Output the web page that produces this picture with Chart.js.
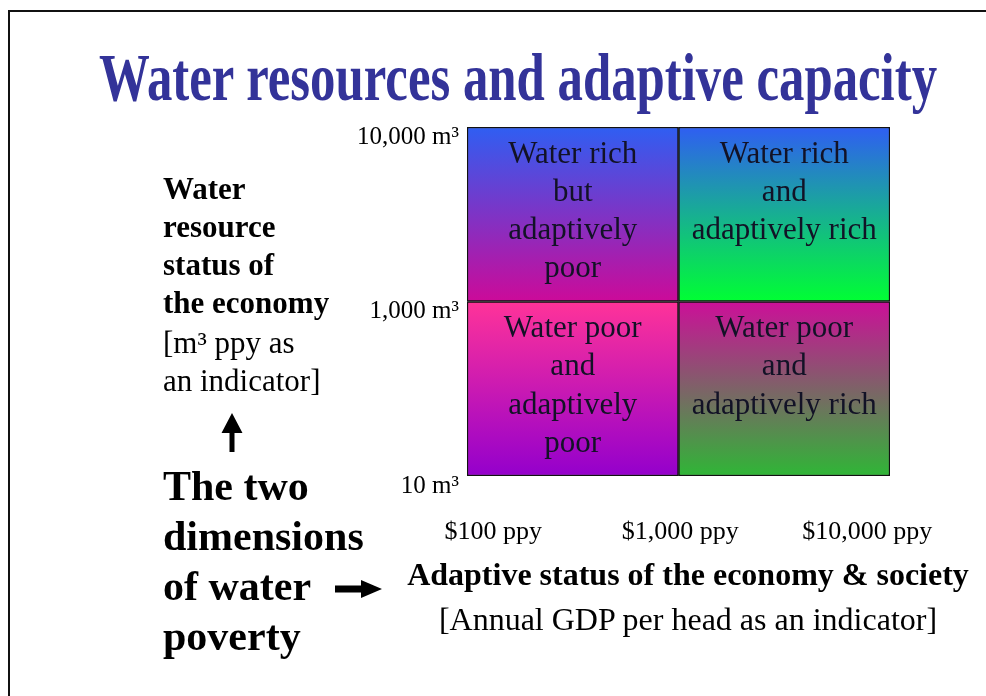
<!DOCTYPE html>
<html>
<head>
<meta charset="utf-8">
<script src="https://cdn.jsdelivr.net/npm/chart.js@4.4.1/dist/chart.umd.min.js"></script>
<style>
  html, body { margin: 0; padding: 0; background: #fff; }
  body { width: 986px; height: 696px; position: relative; overflow: hidden; font-family: "Liberation Serif", "Times New Roman", serif; color: #000; }
  #frame { position: absolute; left: 8px; top: 10px; width: 2000px; height: 2000px; border-left: 2px solid #111; border-top: 2px solid #111; }
  canvas#c { position: absolute; left: 0; top: 0; }
  .t { position: absolute; white-space: nowrap; }
  #title { left: -182px; width: 1400px; top: 43px; text-align: center; font-weight: bold; font-size: 68px; line-height: 68px; color: #333399; transform: scaleX(0.747); transform-origin: 50% 50%; }
  #ylab1 { left: 163px; top: 169.5px; font-weight: bold; font-size: 31px; line-height: 38px; }
  #ylab2 { left: 163px; top: 323.5px; font-size: 31px; line-height: 38px; }
  #two { left: 163px; top: 461px; font-weight: bold; font-size: 42px; line-height: 50px; }
  #xlab1 { left: 288px; width: 800px; text-align: center; top: 554px; font-weight: bold; font-size: 32px; line-height: 40px; }
  #xlab2 { left: 288px; width: 800px; text-align: center; top: 599px; font-size: 32px; line-height: 40px; }
  svg#arrows { position: absolute; left: 0; top: 0; }
</style>
</head>
<body>
<div id="frame"></div>
<canvas id="c" width="986" height="696"></canvas>
<div class="t" id="title">Water resources and adaptive capacity</div>
<div class="t" id="ylab1">Water<br>resource<br>status of<br>the economy</div>
<div class="t" id="ylab2">[m³ ppy as<br>an indicator]</div>
<div class="t" id="two">The two<br>dimensions<br>of water<br>poverty</div>
<div class="t" id="xlab1">Adaptive status of the economy &amp; society</div>
<div class="t" id="xlab2">[Annual GDP per head as an indicator]</div>
<svg id="arrows" width="986" height="696">
  <polygon points="232,413 242.5,433 234.5,433 234.5,452 229.5,452 229.5,433 221.5,433" fill="#000"/>
  <polygon points="335,585.5 361,585.5 361,580 382,589 361,598 361,592.5 335,592.5" fill="#000"/>
</svg>
<script>
// ---- data ----
const adaptiveCategories = ['Adaptively poor', 'Adaptively rich'];
const waterPoorBand = [[0, 1], [0, 1]];
const waterRichBand = [[1, 2], [1, 2]];
const yTickLabels = ['10 m³', '1,000 m³', '10,000 m³'];
const xTickLabels = ['$100 ppy', '$1,000 ppy', '$10,000 ppy'];
const waterPoorText = [['Water poor', 'and', 'adaptively', 'poor'], ['Water poor', 'and', 'adaptively rich']];
const waterRichText = [['Water rich', 'but', 'adaptively', 'poor'], ['Water rich', 'and', 'adaptively rich']];

// ---- styles ----
const gradientStops = {
  poor: [['#ff3399', '#9400cc'], ['#cc0f99', '#2fb636']],
  rich: [['#2f5ef2', '#cc0a99'], ['#2f5ef2', '#00ff33']]
};
const serif = '"Liberation Serif", "Times New Roman", serif';

function cellGradient(key) {
  return (ctx) => {
    const chart = ctx.chart;
    if (ctx.type !== 'data' || !chart.chartArea || !chart.scales.y) return '#888';
    const raw = ctx.raw;
    const y = chart.scales.y;
    const top = y.getPixelForValue(raw[1]);
    const bot = y.getPixelForValue(raw[0]);
    const g = chart.ctx.createLinearGradient(0, top, 0, bot);
    const s = gradientStops[key][ctx.dataIndex];
    g.addColorStop(0, s[0]);
    g.addColorStop(1, s[1]);
    return g;
  };
}

const cellTextPlugin = {
  id: 'cellText',
  afterDatasetsDraw(chart) {
    const c = chart.ctx;
    c.save();
    c.font = '31px ' + serif;
    c.fillStyle = '#121226';
    c.textAlign = 'center';
    c.textBaseline = 'alphabetic';
    chart.data.datasets.forEach((ds, di) => {
      const meta = chart.getDatasetMeta(di);
      meta.data.forEach((el, i) => {
        const lines = ds.cellText[i];
        const top = Math.min(el.y, el.base);
        lines.forEach((ln, k) => {
          c.fillText(ln, el.x, top + 35.5 + k * 38.3);
        });
      });
    });
    c.restore();
  }
};

new Chart(document.getElementById('c'), {
  type: 'bar',
  data: {
    labels: adaptiveCategories,
    datasets: [
      { label: 'Water poor', data: waterPoorBand, cellText: waterPoorText, backgroundColor: cellGradient('poor') },
      { label: 'Water rich', data: waterRichBand, cellText: waterRichText, backgroundColor: cellGradient('rich') }
    ]
  },
  options: {
    responsive: false,
    animation: false,
    devicePixelRatio: 1,
    grouped: false,
    categoryPercentage: 1,
    barPercentage: 1,
    borderColor: '#111111',
    borderWidth: 1.5,
    borderSkipped: false,
    layout: { padding: { left: 317, right: 96, top: 127, bottom: 120 } },
    plugins: { legend: { display: false }, tooltip: { enabled: false }, title: { display: false } },
    scales: {
      x: { type: 'category', display: false, offset: true },
      x2: {
        type: 'linear', position: 'bottom', min: -0.141, max: 2.121, offset: false,
        grid: { display: false, drawTicks: false, offset: false }, border: { display: false },
        afterBuildTicks: (axis) => { axis.ticks = xTickLabels.map((_, i) => ({ value: i })); },
        afterFit: (s) => { s.height = 100; },
        ticks: { autoSkip: false, maxRotation: 0, padding: 41, color: '#000', font: { family: serif, size: 26 }, callback: (v) => xTickLabels[v] }
      },
      y: {
        min: 0, max: 2,
        grid: { display: false, drawTicks: false }, border: { display: false },
        afterBuildTicks: (axis) => { axis.ticks = yTickLabels.map((_, i) => ({ value: i })); },
        afterFit: (s) => { s.width = 150; },
        ticks: { autoSkip: false, padding: 8, labelOffset: 10, color: '#000', font: { family: serif, size: 25 }, callback: (v) => yTickLabels[v] }
      }
    }
  },
  plugins: [cellTextPlugin]
});
</script>
</body>
</html>
